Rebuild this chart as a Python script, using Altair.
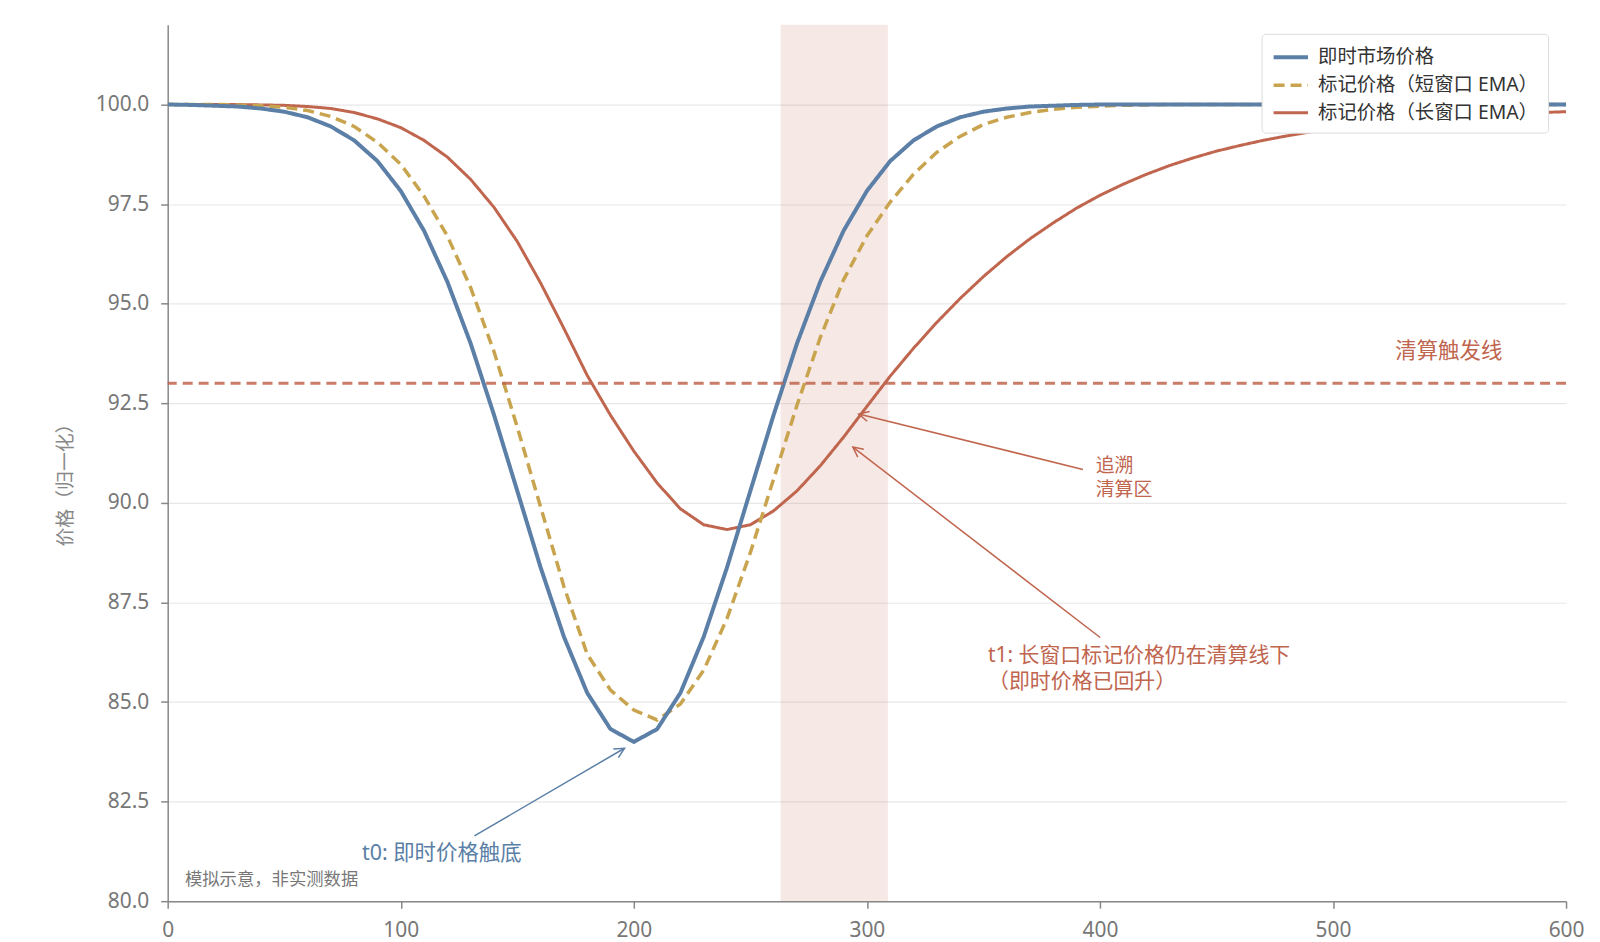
import altair as alt
import pandas as pd
import math

# ---------------- data ----------------
x_vals = list(range(0, 610, 10))

spot = [100.0, 99.99, 99.97, 99.95, 99.90, 99.82, 99.68, 99.45, 99.10, 98.58,
        97.83, 96.83, 95.55, 94.00, 92.21, 90.30, 88.38, 86.64, 85.23, 84.32,
        84.00,
        84.32, 85.23, 86.64, 88.38, 90.30, 92.21, 94.00, 95.55, 96.83, 97.83,
        98.58, 99.10, 99.45, 99.68, 99.82, 99.90, 99.95, 99.97, 99.99, 100.0,
        100.0, 100.0, 100.0, 100.0, 100.0, 100.0, 100.0, 100.0, 100.0, 100.0,
        100.0, 100.0, 100.0, 100.0, 100.0, 100.0, 100.0, 100.0, 100.0, 100.0]

ema_short = [100.0, 100.0, 100.0, 99.99, 99.97, 99.93, 99.85, 99.70, 99.45, 99.05,
             98.50, 97.70, 96.70, 95.40, 93.80, 91.90, 89.90, 87.90, 86.20, 85.30,
             84.80, 84.55, 84.95, 85.80, 87.10, 88.75, 90.60, 92.45, 94.15, 95.60,
             96.70, 97.55, 98.25, 98.80, 99.20, 99.50, 99.68, 99.80, 99.88, 99.93,
             99.96, 99.98, 99.99, 100.0, 100.0, 100.0, 100.0, 100.0, 100.0, 100.0,
             100.0, 100.0, 100.0, 100.0, 100.0, 100.0, 100.0, 100.0, 100.0, 100.0,
             100.0]

ema_long = [100.0, 100.0, 100.0, 100.0, 99.99, 99.98, 99.95, 99.90, 99.80, 99.64,
            99.42, 99.10, 98.68, 98.12, 97.42, 96.56, 95.52, 94.38, 93.20, 92.20,
            91.30, 90.50, 89.85, 89.45, 89.33, 89.45, 89.80, 90.30, 90.93, 91.65,
            92.42, 93.18, 93.88, 94.53, 95.13, 95.68, 96.18, 96.63, 97.03, 97.40,
            97.72, 98.00, 98.25, 98.47, 98.66, 98.83, 98.97, 99.10, 99.21, 99.31,
            99.39, 99.46, 99.52, 99.58, 99.63, 99.67, 99.71, 99.74, 99.77, 99.80,
            99.82]

series_names = ["即时市场价格", "标记价格（短窗口 EMA）", "标记价格（长窗口 EMA）"]

threshold = [93.0]
threshold_label = ["清算触发线"]
threshold_label_x = [549.7]
threshold_label_y = [93.79]

zone_start = [263.0]
zone_end = [309.0]

x_ticks = [0, 100, 200, 300, 400, 500, 600]
y_ticks = [80.0, 82.5, 85.0, 87.5, 90.0, 92.5, 95.0, 97.5, 100.0]

# annotations
ann_text = ["t0: 即时价格触底", "追溯\n清算区", "t1: 长窗口标记价格仍在清算线下\n（即时价格已回升）"]
ann_text_x = [117.6, 398.2, 352.0]
ann_text_y = [81.18, 91.15, 86.44]

arrow_x0 = [131.6, 392.7, 400.1]
arrow_y0 = [81.64, 90.84, 86.62]
arrow_x1 = [196.0, 296.5, 294.0]
arrow_y1 = [83.84, 92.23, 91.40]

note_text = ["模拟示意，非实测数据"]
note_x = [7.4]
note_y = [80.54]

# ---------------- style ----------------
S = 1.0215  # compensation for page scaling
FONT = "Noto Sans, Noto Sans CJK SC"
BLUE = "#5b7fa6"
GOLD = "#c9a44f"
RED = "#c0654e"
ANN_COLORS = [BLUE, RED, RED]
W, H = round(1372 * S), round(860 * S)
X_DOM = [0, 600]
Y_DOM = [80, 102]

xs = alt.Scale(domain=X_DOM, nice=False, zero=False)
ys = alt.Scale(domain=Y_DOM, nice=False, zero=False)

# ---------------- frames ----------------
rows = []
for i, xv in enumerate(x_vals):
    rows.append({"x": xv, "y": spot[i], "series": series_names[0]})
    rows.append({"x": xv, "y": ema_short[i], "series": series_names[1]})
    rows.append({"x": xv, "y": ema_long[i], "series": series_names[2]})
df = pd.DataFrame(rows)

color_scale = alt.Scale(domain=series_names, range=[BLUE, GOLD, RED])
dash_scale = alt.Scale(domain=series_names, range=[[1, 0], [11, 6], [1, 0]])
width_scale = alt.Scale(domain=series_names, range=[4, 3, 2.6])

SYM_W = 23.0  # legend symbol box width (sqrt of size)
legend = alt.Legend(
    title=None, orient="none", legendX=round(1073 * S), legendY=9,
    labelFont=FONT, labelFontSize=19 * S, labelColor="#333", labelLimit=0,
    symbolType="M -1.5 0 L 1.5 0", symbolSize=SYM_W * SYM_W,
    symbolOffset=0.25 * SYM_W, labelOffset=0.25 * SYM_W + 8,
    rowPadding=5, padding=10,
    fillColor="white", strokeColor="#dcdcdc", cornerRadius=4,
)

x_axis = alt.Axis(
    values=x_ticks, grid=False, title=None, labelFont=FONT,
    labelFontSize=20.5 * S, labelColor="#777", domainColor="#888",
    domainWidth=1.5, tickColor="#888", tickSize=7, tickWidth=1.5,
    labelPadding=11, format="d", labelFlush=False)
y_axis = alt.Axis(
    values=y_ticks, format=".1f", grid=True, gridColor="#e8e8e8",
    gridWidth=1.2, title="价格（归一化）", titleFont=FONT,
    titleFontSize=18.5 * S, titleFontWeight="normal", titleColor="#888",
    titleX=round(-100 * S), titleY=round(446 * S), titleAngle=270,
    titleBaseline="middle", titleAlign="center",
    labelFont=FONT, labelFontSize=20.5 * S, labelColor="#777",
    domainColor="#888", domainWidth=1.5, tickColor="#888",
    tickSize=7, tickWidth=1.5, labelPadding=12, labelFlush=False)


def series_layer(name):
    return alt.Chart(df).transform_filter(alt.datum.series == name).mark_line(
        clip=True
    ).encode(
        x=alt.X("x:Q", scale=xs, axis=x_axis),
        y=alt.Y("y:Q", scale=ys, axis=y_axis),
        color=alt.Color("series:N", scale=color_scale, legend=legend),
        strokeDash=alt.StrokeDash("series:N", scale=dash_scale, legend=legend),
        strokeWidth=alt.StrokeWidth("series:N", scale=width_scale, legend=legend),
    )


zone_df = pd.DataFrame({"x0": zone_start, "x1": zone_end})
zone = alt.Chart(zone_df).mark_rect(color=RED, opacity=0.15).encode(
    x=alt.X("x0:Q", scale=xs), x2="x1:Q",
    y=alt.value(0), y2=alt.value(H),
)

thr_df = pd.DataFrame({"y": threshold})
thr = alt.Chart(thr_df).mark_rule(
    color=RED, strokeWidth=3, strokeDash=[10, 6], opacity=0.85
).encode(y=alt.Y("y:Q", scale=ys))

thr_lab_df = pd.DataFrame({"x": threshold_label_x, "y": threshold_label_y,
                           "t": threshold_label})
thr_lab = alt.Chart(thr_lab_df).mark_text(
    font=FONT, fontSize=21 * S, color=RED, align="center", baseline="middle"
).encode(x=alt.X("x:Q", scale=xs), y=alt.Y("y:Q", scale=ys), text="t:N")

# arrowhead orientation from pixel direction
px_x = W / (X_DOM[1] - X_DOM[0])
px_y = H / (Y_DOM[1] - Y_DOM[0])


def arrow(i):
    a, b, c, d = arrow_x0[i], arrow_y0[i], arrow_x1[i], arrow_y1[i]
    dx = (c - a) * px_x
    dy = -(d - b) * px_y
    ang = math.degrees(math.atan2(dx, -dy)) % 360
    adf = pd.DataFrame({"x0": [a], "y0": [b], "x1": [c], "y1": [d]})
    shaft = alt.Chart(adf).mark_rule(strokeWidth=1.5, color=ANN_COLORS[i]).encode(
        x=alt.X("x0:Q", scale=xs), y=alt.Y("y0:Q", scale=ys),
        x2="x1:Q", y2="y1:Q",
    )
    head = alt.Chart(adf).mark_point(
        shape="M -1 2 L 0 0 L 1 2", filled=False, size=100, strokeWidth=1.5,
        opacity=1, angle=ang, color=ANN_COLORS[i],
    ).encode(x=alt.X("x1:Q", scale=xs), y=alt.Y("y1:Q", scale=ys))
    return shaft + head


ann_df = pd.DataFrame({"x": ann_text_x, "y": ann_text_y, "t": ann_text})
ann_t0 = alt.Chart(ann_df.iloc[[0]]).mark_text(
    font=FONT, fontSize=21 * S, align="center", baseline="middle", color=BLUE
).encode(x=alt.X("x:Q", scale=xs), y=alt.Y("y:Q", scale=ys), text="t:N")
ann_zone = alt.Chart(ann_df.iloc[[1]]).mark_text(
    font=FONT, fontSize=18.5 * S, align="left", baseline="top", lineBreak="\n",
    lineHeight=24 * S, color=RED
).encode(x=alt.X("x:Q", scale=xs), y=alt.Y("y:Q", scale=ys), text="t:N")
ann_t1 = alt.Chart(ann_df.iloc[[2]]).mark_text(
    font=FONT, fontSize=20.5 * S, align="left", baseline="top", lineBreak="\n",
    lineHeight=26.5, color=RED
).encode(x=alt.X("x:Q", scale=xs), y=alt.Y("y:Q", scale=ys), text="t:N")

note_df = pd.DataFrame({"x": note_x, "y": note_y, "t": note_text})
note = alt.Chart(note_df).mark_text(
    font=FONT, fontSize=17 * S, color="#777", align="left", baseline="middle"
).encode(x=alt.X("x:Q", scale=xs), y=alt.Y("y:Q", scale=ys), text="t:N")

chart = alt.layer(
    zone,
    series_layer(series_names[2]),
    series_layer(series_names[1]),
    series_layer(series_names[0]),
    thr, thr_lab, arrow(0), arrow(1), arrow(2),
    ann_t0, ann_zone, ann_t1, note,
).properties(
    width=W, height=H,
    autosize=alt.AutoSizeParams(type="none"),
    padding={"left": 160, "top": 16, "right": 26, "bottom": 44},
).configure(font=FONT).configure_view(stroke=None)

chart.save("out.html", embed_options={"renderer": "svg", "actions": False})
